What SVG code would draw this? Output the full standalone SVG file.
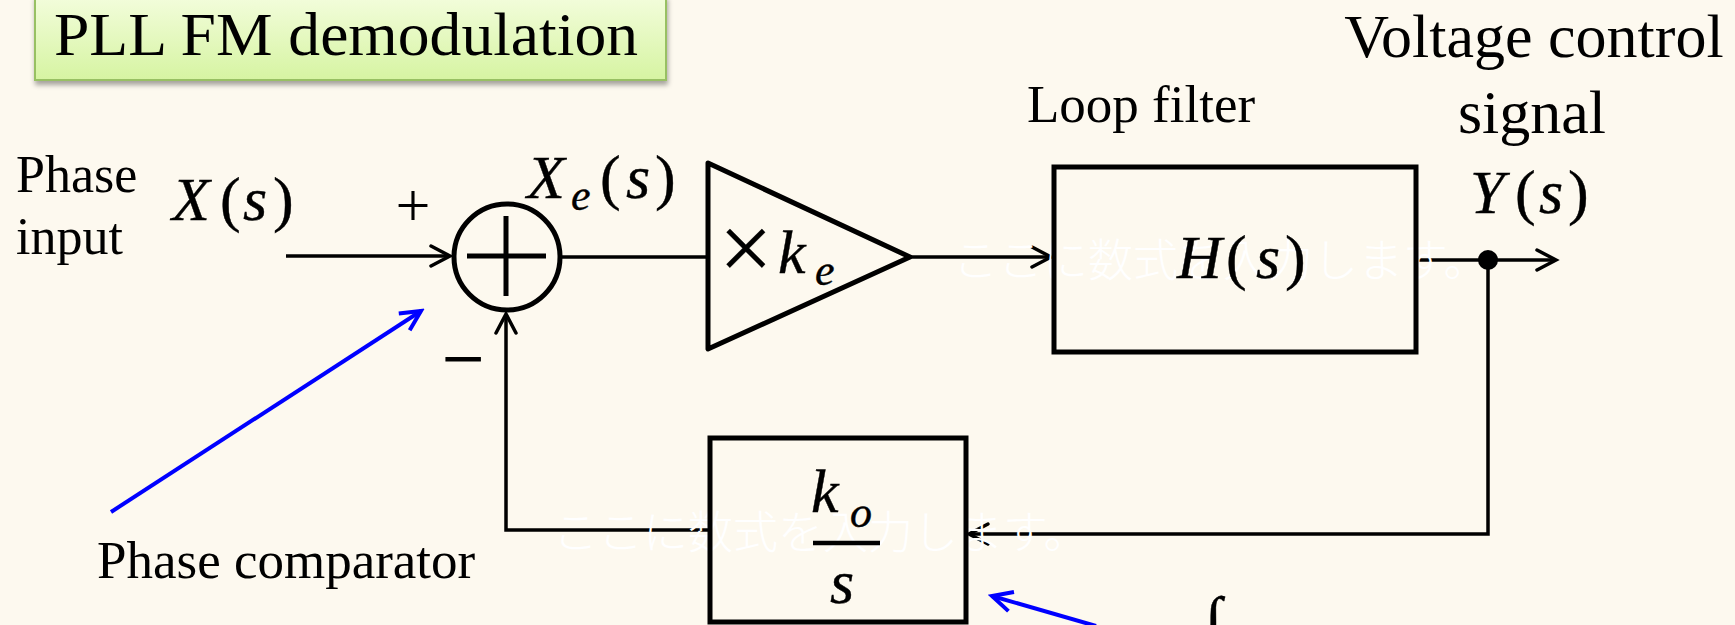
<svg xmlns="http://www.w3.org/2000/svg" width="1735" height="625" viewBox="0 0 1735 625">
<defs>
<linearGradient id="tg" x1="0" y1="0" x2="0" y2="1">
<stop offset="0" stop-color="#f3fddc"/>
<stop offset="1" stop-color="#d6f4a2"/>
</linearGradient>
<filter id="sh" x="-5%" y="-10%" width="110%" height="130%">
<feDropShadow dx="1" dy="4" stdDeviation="2.5" flood-color="#000" flood-opacity="0.35"/>
</filter>
<marker id="ah" viewBox="-24 -14 28 28" markerWidth="28" markerHeight="28" refX="0" refY="0" orient="auto" markerUnits="userSpaceOnUse">
<path d="M-19,-10 L0,0 L-19,10" fill="none" stroke="#000" stroke-width="3.5" stroke-linecap="round" stroke-linejoin="miter"/>
</marker>
<marker id="bh" viewBox="-26 -14 30 28" markerWidth="30" markerHeight="28" refX="0" refY="0" orient="auto" markerUnits="userSpaceOnUse">
<path d="M-20,-10 L0,0 L-20,10" fill="none" stroke="#0000ff" stroke-width="4" stroke-linecap="butt"/>
</marker>
</defs>
<style>
.t{font-family:"Liberation Serif","Times New Roman",serif;fill:#000}
.m{font-family:"Liberation Serif","Times New Roman",serif;font-size:62px;fill:#000;stroke:#000;stroke-width:0.4}
.i{font-style:italic}
.sub{font-size:44px;font-style:italic}
.blk{fill:none;stroke:#000;stroke-width:5}
.w{fill:none;stroke:#000;stroke-width:3.5}
.bl{fill:none;stroke:#0000ff;stroke-width:4}
.jp{font-family:"Noto Sans CJK JP",sans-serif;font-size:45px;fill:#ffffff;font-weight:300}
</style>
<rect x="0" y="0" width="1735" height="625" fill="#fdf9ef"/>

<g id="title">
<rect x="35" y="-4" width="631" height="84" fill="url(#tg)" stroke="#98c063" stroke-width="2" filter="url(#sh)"/>
<text class="t" x="54" y="55" font-size="62" textLength="584" lengthAdjust="spacingAndGlyphs">PLL FM demodulation</text>
</g>

<g id="connectors">
<path class="w" d="M286,256 H450" marker-end="url(#ah)"/>
<path class="w" d="M562,257 H708"/>
<path class="w" d="M910,257 H1051" marker-end="url(#ah)"/>
<path class="w" d="M1416,260 H1556" marker-end="url(#ah)"/>
<path class="w" d="M1488,260 V534 H969" marker-end="url(#ah)"/>
<path class="w" d="M710,530 H506 V314" marker-end="url(#ah)"/>
<circle cx="1488" cy="260" r="10" fill="#000"/>
</g>

<g id="placeholder-text">
<text class="jp" x="953" y="277">ここに数式を入力します。</text>
<text class="jp" x="553" y="549">ここに数式を入力します。</text>
</g>

<g id="input-label">
<text class="t" x="16" y="192" font-size="52">Phase</text>
<text class="t" x="16" y="254" font-size="52">input</text>
<text class="m" y="220"><tspan class="i" x="172">X</tspan><tspan x="220">(</tspan><tspan class="i" x="243">s</tspan><tspan x="273">)</tspan></text>
</g>

<g id="summing-junction">
<circle class="blk" cx="507" cy="257" r="53"/>
<path d="M467,256 H546 M506,216 V296" stroke="#000" stroke-width="5" fill="none"/>
<text class="t" x="413" y="226" font-size="62" text-anchor="middle">+</text>
<text class="t" x="463" y="384" font-size="74" text-anchor="middle" stroke="#000" stroke-width="1">−</text>
<text class="m" y="198"><tspan class="i" x="527">X</tspan><tspan class="sub" x="571" y="210">e</tspan><tspan x="600" y="198">(</tspan><tspan class="i" x="626">s</tspan><tspan x="655">)</tspan></text>
</g>

<g id="amplifier">
<polygon class="blk" points="708,163 910,257 708,349" stroke-linejoin="round"/>
<text class="m" y="280"><tspan x="719" font-size="95" stroke-width="0.2">×</tspan><tspan class="i" x="778" y="273">k</tspan><tspan class="sub" x="815" y="285">e</tspan></text>
</g>

<g id="loop-filter">
<rect class="blk" x="1054" y="167" width="362" height="185"/>
<text class="t" x="1027" y="122" font-size="53">Loop filter</text>
<text class="m" y="278"><tspan class="i" x="1177">H</tspan><tspan x="1226">(</tspan><tspan class="i" x="1256">s</tspan><tspan x="1285">)</tspan></text>
</g>

<g id="output-label">
<text class="t" x="1534" y="57" font-size="62" text-anchor="middle">Voltage control</text>
<text class="t" x="1532" y="133" font-size="62" text-anchor="middle">signal</text>
<text class="m" y="213"><tspan class="i" x="1470">Y</tspan><tspan x="1515">(</tspan><tspan class="i" x="1539">s</tspan><tspan x="1568">)</tspan></text>
</g>

<g id="vco">
<rect class="blk" x="710" y="438" width="256" height="184"/>
<text class="m" y="512"><tspan class="i" x="811">k</tspan><tspan class="sub" x="850" y="527">o</tspan></text>
<path d="M813,543 H880" stroke="#000" stroke-width="4.5"/>
<text class="m i" x="830" y="603">s</text>
</g>

<g id="annotations">
<path class="bl" d="M111,512 L421,311" marker-end="url(#bh)"/>
<text class="t" x="97" y="578" font-size="53">Phase comparator</text>
<path class="bl" d="M1096,626 L992,596" marker-end="url(#bh)"/>
<text class="m i" x="1205" y="640" font-size="100">∫</text>
</g>
</svg>
